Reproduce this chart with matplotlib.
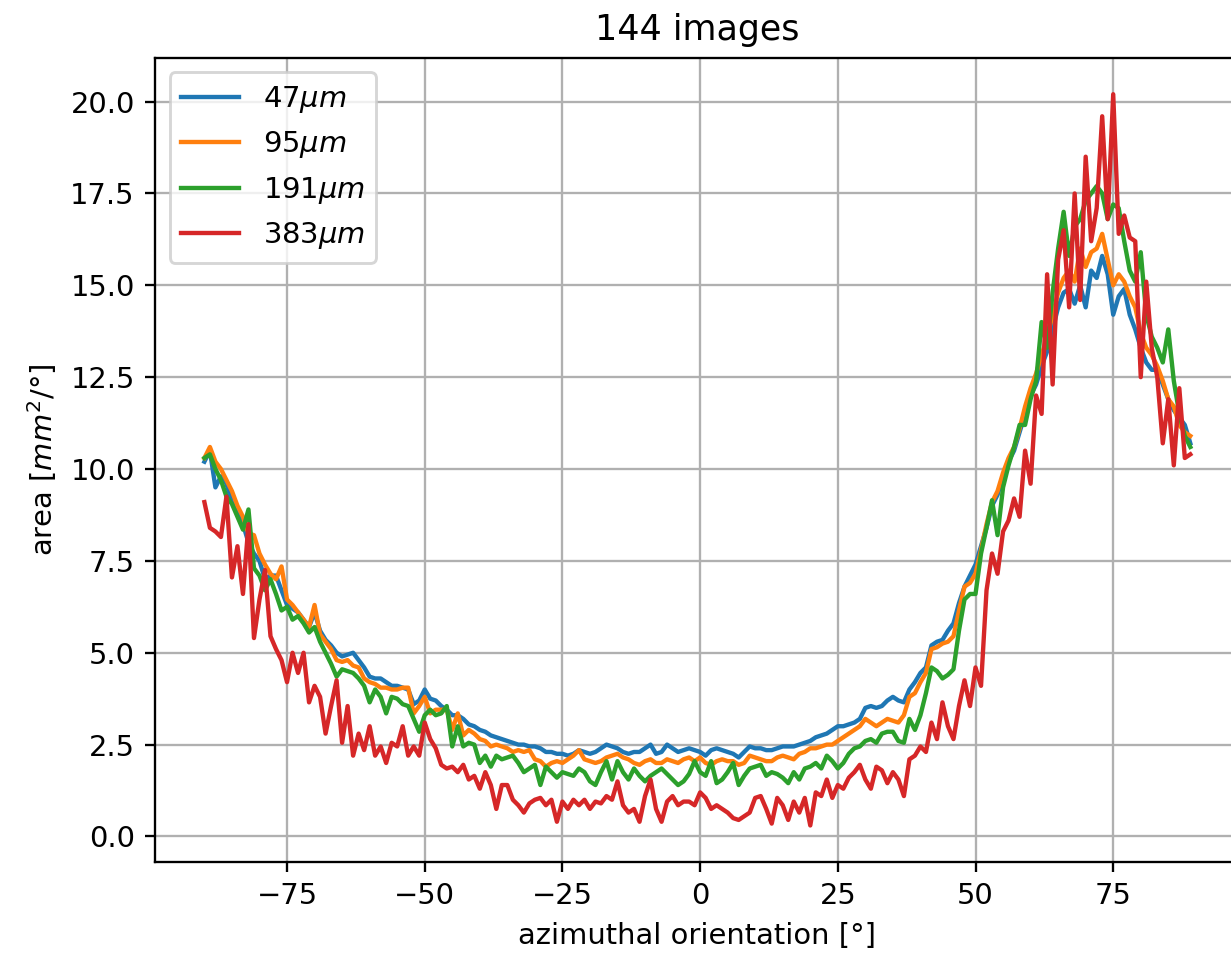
import numpy as np
import matplotlib
matplotlib.use("Agg")
import matplotlib.pyplot as plt

# azimuthal orientation bins, 1 degree wide
angles = np.arange(-90, 90)

labels = [r"47$\mu m$", r"95$\mu m$", r"191$\mu m$", r"383$\mu m$"]

area_47 = [
    10.2, 10.5, 9.5, 9.8, 9.6, 9.1, 8.8, 8.5, 8.0, 7.7,
    7.5, 7.0, 7.1, 7.1, 6.7, 6.3, 6.2, 6.1, 5.9, 5.7,
    6.1, 5.6, 5.35, 5.2, 5.0, 4.9, 4.95, 5.0, 4.8, 4.6,
    4.35, 4.3, 4.3, 4.2, 4.1, 4.1, 4.05, 4.0, 3.6, 3.7,
    4.0, 3.75, 3.7, 3.55, 3.45, 3.3, 3.3, 3.2, 3.05, 3.0,
    2.9, 2.85, 2.75, 2.7, 2.65, 2.6, 2.55, 2.5, 2.5, 2.45,
    2.45, 2.4, 2.3, 2.3, 2.25, 2.25, 2.2, 2.25, 2.35, 2.3,
    2.25, 2.3, 2.4, 2.5, 2.45, 2.4, 2.3, 2.25, 2.3, 2.3,
    2.4, 2.5, 2.25, 2.3, 2.5, 2.4, 2.3, 2.35, 2.4, 2.35,
    2.3, 2.2, 2.35, 2.4, 2.35, 2.3, 2.25, 2.15, 2.3, 2.45,
    2.4, 2.4, 2.35, 2.35, 2.4, 2.45, 2.45, 2.45, 2.5, 2.55,
    2.6, 2.7, 2.75, 2.8, 2.9, 3.0, 3.0, 3.05, 3.1, 3.2,
    3.5, 3.55, 3.5, 3.55, 3.7, 3.8, 3.7, 3.65, 4.0, 4.2,
    4.45, 4.6, 5.2, 5.3, 5.35, 5.6, 5.8, 6.35, 6.8, 7.1,
    7.4, 7.9, 8.4, 9.0, 9.3, 9.8, 10.2, 10.5, 11.0, 11.5,
    12.0, 12.3, 12.8, 13.2, 13.8, 14.4, 14.8, 14.9, 14.5, 15.0,
    14.4, 15.4, 15.2, 15.8, 15.3, 14.2, 14.7, 14.9, 14.2, 13.8,
    13.3, 12.9, 12.7, 12.7, 12.3, 11.9, 11.6, 11.4, 11.2, 10.7,
]

area_95 = [
    10.3, 10.6, 10.2, 10.0, 9.7, 9.4, 9.0, 8.7, 8.25, 8.2,
    7.7, 7.4, 7.15, 7.0, 7.35, 6.45, 6.3, 6.1, 5.9, 5.7,
    6.3, 5.5, 5.3, 5.1, 4.8, 4.75, 4.8, 4.65, 4.6, 4.3,
    4.2, 4.15, 4.05, 4.05, 4.0, 4.0, 4.05, 4.05, 3.35, 3.55,
    3.8, 3.35, 3.45, 3.45, 3.45, 2.9, 3.35, 2.75, 2.9, 2.8,
    2.65, 2.6, 2.45, 2.5, 2.45, 2.4, 2.3, 2.35, 2.3, 2.35,
    2.1, 2.05, 1.9, 2.0, 2.05, 2.0, 2.1, 2.2, 2.35, 2.1,
    2.05, 2.0, 2.05, 2.15, 2.2, 2.25, 2.15, 2.1, 2.0, 1.95,
    2.05, 2.1, 2.0, 2.0, 2.1, 2.05, 2.0, 2.1, 2.15, 2.05,
    2.15, 2.0, 1.95, 2.05, 2.1, 2.05, 2.05, 1.95, 2.0, 2.2,
    2.15, 2.1, 2.05, 2.05, 2.15, 2.2, 2.15, 2.1, 2.25, 2.3,
    2.4, 2.4, 2.45, 2.5, 2.5, 2.6, 2.7, 2.8, 2.9, 3.0,
    3.2, 3.1, 3.0, 3.1, 3.2, 3.15, 3.1, 3.3, 3.8, 3.9,
    4.2, 4.45, 5.1, 5.15, 5.25, 5.3, 5.45, 6.15, 6.8, 6.9,
    7.15, 7.8, 8.5, 9.1, 9.4, 9.9, 10.3, 10.6, 11.1, 11.7,
    12.2, 12.6, 13.1, 13.6, 14.2, 14.8, 15.2, 15.4, 15.1, 16.0,
    15.5, 15.9, 16.0, 16.4, 15.7, 15.0, 15.3, 15.1, 14.7, 14.4,
    13.7, 13.3, 13.1, 12.8, 12.4, 11.9, 11.7, 11.2, 11.0, 10.9,
]

area_191 = [
    10.3, 10.4, 10.0, 9.7, 9.25, 9.05, 8.7, 8.35, 8.9, 7.3,
    7.1, 6.7, 7.0, 6.6, 6.15, 6.25, 5.9, 6.0, 5.8, 5.55,
    5.7, 5.3, 5.0, 4.7, 4.35, 4.55, 4.5, 4.45, 4.3, 4.1,
    3.65, 4.0, 3.8, 3.35, 3.8, 3.75, 3.6, 3.55, 3.2, 2.85,
    3.3, 3.45, 3.3, 3.35, 3.55, 2.45, 3.0, 2.45, 2.55, 2.5,
    2.0, 2.2, 1.9, 2.2, 2.1, 2.15, 2.2, 2.0, 1.75, 1.85,
    1.95, 1.4, 1.9, 1.75, 1.6, 1.75, 1.7, 1.65, 1.85, 1.75,
    1.5, 1.4, 1.75, 2.05, 1.55, 2.05, 1.75, 1.55, 1.85, 1.65,
    1.5, 1.65, 1.75, 1.85, 1.7, 1.55, 1.4, 1.5, 1.7, 2.05,
    1.75, 1.65, 2.05, 1.45, 1.55, 1.75, 2.0, 1.4, 1.65, 1.85,
    1.9, 1.95, 1.65, 1.75, 1.7, 1.6, 1.45, 1.75, 1.55, 1.85,
    1.9, 2.0, 1.85, 2.2, 2.05, 1.85, 2.0, 2.25, 2.4, 2.45,
    2.6, 2.65, 2.55, 2.8, 2.85, 2.85, 2.6, 2.55, 3.2, 2.9,
    3.3, 3.9, 4.6, 4.5, 4.3, 4.4, 4.55, 5.6, 6.45, 6.6,
    6.6, 7.7, 8.4, 9.15, 8.2, 9.5, 10.1, 10.6, 11.2, 11.2,
    11.9, 12.4, 14.0, 13.3, 14.8, 16.0, 17.0, 15.8, 16.6, 16.8,
    17.3, 17.5, 17.7, 17.5, 16.8, 17.2, 17.1, 16.2, 15.4, 15.1,
    15.9, 14.2, 13.6, 13.3, 12.9, 13.8, 12.4, 11.5, 10.9, 10.6,
]

area_383 = [
    9.1, 8.4, 8.3, 8.15, 9.25, 7.05, 7.9, 6.6, 8.5, 5.4,
    6.45, 7.25, 5.45, 5.1, 4.8, 4.2, 5.0, 4.45, 5.0, 3.65,
    4.1, 3.8, 2.8, 3.55, 4.25, 2.55, 3.55, 2.2, 2.8, 2.35,
    3.0, 2.2, 2.45, 2.0, 2.55, 2.45, 3.0, 2.2, 2.45, 2.2,
    3.1, 2.65, 2.4, 1.95, 1.85, 1.9, 1.75, 1.95, 1.55, 1.65,
    1.3, 1.75, 1.4, 0.75, 1.4, 1.4, 1.0, 0.85, 0.65, 0.9,
    1.0, 1.05, 0.85, 1.0, 0.4, 0.95, 0.75, 1.0, 0.85, 1.0,
    0.75, 0.95, 0.9, 1.1, 1.0, 1.5, 0.85, 0.65, 0.75, 0.4,
    1.1, 1.55, 0.75, 0.4, 0.95, 1.1, 0.85, 0.95, 0.95, 0.85,
    1.2, 1.05, 0.75, 0.85, 0.75, 0.65, 0.5, 0.45, 0.55, 0.65,
    1.05, 1.1, 0.75, 0.35, 1.05, 0.85, 0.45, 0.95, 0.65, 1.05,
    0.3, 1.2, 1.1, 1.55, 1.05, 1.4, 1.3, 1.6, 1.75, 1.95,
    1.55, 1.3, 1.9, 1.8, 1.45, 1.75, 1.55, 1.1, 2.1, 2.2,
    2.45, 2.3, 3.1, 2.65, 3.65, 3.0, 2.65, 3.55, 4.25, 3.55,
    4.6, 4.1, 6.7, 7.7, 7.15, 8.3, 8.6, 9.2, 8.7, 10.5,
    9.6, 12.0, 11.5, 15.3, 12.3, 15.7, 16.5, 14.4, 17.5, 14.6,
    18.5, 16.2, 17.1, 19.6, 16.8, 20.2, 16.4, 16.9, 16.3, 16.2,
    12.5, 15.1, 13.3, 12.5, 10.7, 11.9, 10.1, 12.2, 10.3, 10.4,
]

fig = plt.figure(figsize=(1231 / 209, 961 / 209), dpi=209)
# the right spine sits just past the image edge in the original
ax = fig.add_axes([0.126, 0.103, 0.881, 0.837])

for series, lab in zip([area_47, area_95, area_191, area_383], labels):
    ax.plot(angles, series, label=lab)

ax.set_title("144 images")
ax.set_xlabel("azimuthal orientation [°]")
ax.set_ylabel(r"area [$mm^2/°$]")
ax.grid(True)
ax.legend(loc="upper left")

fig.savefig("out.png", dpi=209)
